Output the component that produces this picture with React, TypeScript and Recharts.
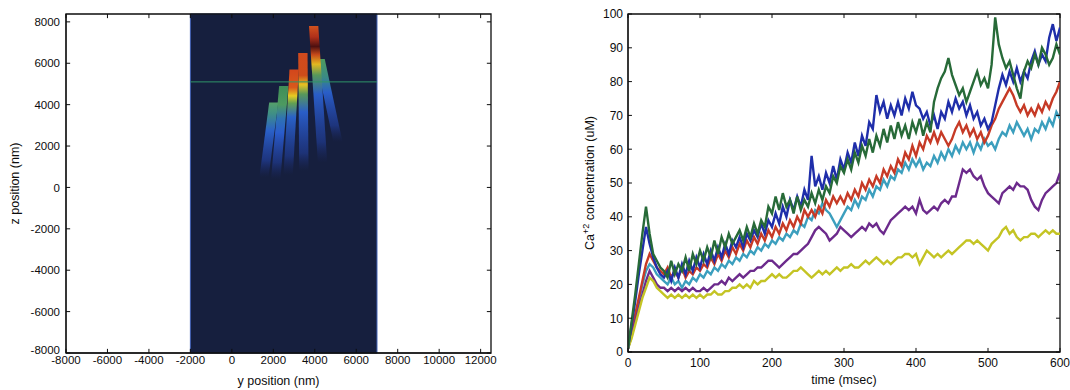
import React from 'react';
import { ComposedChart, LineChart, Line, XAxis, YAxis, ReferenceArea, ReferenceLine } from 'recharts';

const FONT = '"Liberation Sans", Arial, Helvetica, sans-serif';
const INK = '#0d0d0d';

// ---------------- Left panel: spatial map ----------------
const yPosTicks = [-8000, -6000, -4000, -2000, 0, 2000, 4000, 6000, 8000, 10000, 12000];
const zPosTicks = [-8000, -6000, -4000, -2000, 0, 2000, 4000, 6000, 8000];
const yPosDomain = [-8000, 12500];
const zPosDomain = [-8000, 8380];
const regionY = [-2000, 7000];
const markerZ = 5100;

// columns, listed back-to-front
const colTopLeft = [4050, 1800, 2280, 2780, 3200, 3720];
const colTopRight = [4480, 2240, 2730, 3230, 3650, 4170];
const colTopZ = [6200, 4100, 4900, 5700, 6500, 7800];
const colBottomLeft = [4900, 1330, 1890, 2490, 3250, 4150];
const colBottomRight = [5340, 1770, 2340, 2940, 3700, 4600];
const colBottomZ = [2200, 500, 400, 600, 800, 1200];

// colour ramps (style) top -> bottom
const columnStops: [number, string, number][][] = [
  [[0, '#4e9c5e', 1], [0.22, '#3a8a86', 1], [0.4, '#2a5ec8', 1], [0.8, '#2446b0', 0.55], [1, '#1c2c78', 0]],
  [[0, '#55a06a', 1], [0.15, '#3f8f86', 1], [0.38, '#2a60c8', 1], [0.78, '#2446b0', 0.55], [1, '#1c2c78', 0]],
  [[0, '#3f8d58', 1], [0.2, '#4d9a60', 1], [0.35, '#2e72b4', 1], [0.5, '#2a5ccc', 1], [0.82, '#2446b0', 0.5], [1, '#1c2c78', 0]],
  [[0, '#d2461c', 1], [0.17, '#d8581c', 1], [0.25, '#e6cc22', 1], [0.32, '#62a052', 1], [0.45, '#2a62c8', 1], [0.82, '#2446b0', 0.5], [1, '#1c2c78', 0]],
  [[0, '#d04a1e', 1], [0.19, '#cf4c1a', 1], [0.27, '#e6c222', 1], [0.35, '#58985a', 1], [0.5, '#2a5ec8', 1], [0.85, '#2446b0', 0.5], [1, '#1c2c78', 0]],
  [[0, '#d2521e', 1], [0.08, '#b0301a', 1], [0.15, '#4e1010', 1], [0.21, '#c84a1a', 1], [0.28, '#e2b820', 1], [0.36, '#58985a', 1], [0.5, '#2a5ec8', 1], [0.85, '#2446b0', 0.5], [1, '#1c2c78', 0]],
];

// ---------------- Right panel: time series ----------------
const times = [
  0, 5, 10, 15, 20, 25, 30, 35, 40, 45, 50,
  55, 60, 65, 70, 75, 80, 85, 90, 95, 100,
  105, 110, 115, 120, 125, 130, 135, 140, 145, 150,
  155, 160, 165, 170, 175, 180, 185, 190, 195, 200,
  205, 210, 215, 220, 225, 230, 235, 240, 245, 250,
  255, 260, 265, 270, 275, 280, 285, 290, 295, 300,
  305, 310, 315, 320, 325, 330, 335, 340, 345, 350,
  355, 360, 365, 370, 375, 380, 385, 390, 395, 400,
  405, 410, 415, 420, 425, 430, 435, 440, 445, 450,
  455, 460, 465, 470, 475, 480, 485, 490, 495, 500,
  505, 510, 515, 520, 525, 530, 535, 540, 545, 550,
  555, 560, 565, 570, 575, 580, 585, 590, 595, 600,
];
const greenVals = [
  1, 9, 17, 26, 35, 43, 35, 29, 27, 25, 24,
  22, 27, 23, 26, 24, 28, 24, 29, 26, 30,
  27, 31, 28, 33, 29, 34, 31, 35, 32, 34,
  36, 33, 37, 34, 38, 35, 39, 37, 43, 41,
  46, 42, 47, 43, 45, 41, 46, 42, 45, 43,
  47, 44, 48, 45, 49, 47, 52, 50, 55, 53,
  57, 54, 59, 56, 61, 58, 63, 59, 64, 61,
  66, 62, 67, 63, 68, 64, 67, 63, 68, 65,
  69, 64, 68, 65, 74, 78, 81, 83, 87, 82,
  79, 76, 78, 74, 77, 80, 83, 79, 81, 78,
  85, 99, 91, 87, 84, 86, 82, 78, 75, 83,
  86, 84, 88, 85, 90, 88, 85, 87, 91, 88,
];
const blueVals = [
  1, 8, 15, 23, 30, 37, 32, 28, 25, 23, 22,
  24, 21, 25, 22, 26, 23, 27, 24, 28, 25,
  29, 26, 30, 27, 31, 28, 32, 29, 33, 31,
  34, 31, 35, 33, 36, 34, 38, 35, 39, 37,
  41, 38, 43, 40, 45, 42, 46, 43, 48, 45,
  58, 49, 52, 48, 53, 50, 55, 51, 57, 54,
  59, 56, 62, 58, 64, 61, 68, 66, 76, 71,
  74, 69, 73, 70, 74, 70, 75, 72, 77, 73,
  72, 69, 71, 67, 70, 66, 71, 69, 74, 71,
  75, 72, 74, 70, 73, 69, 71, 67, 69, 66,
  68, 73, 78, 82, 79, 83, 80, 84, 80, 83,
  81, 86, 89, 85, 88, 86, 93, 97, 92, 96,
];
const redVals = [
  1, 6, 11, 16, 21, 26, 29, 27, 25, 24, 23,
  25, 22, 24, 22, 25, 22, 24, 23, 25, 24,
  26, 25, 28, 26, 29, 27, 30, 28, 31, 29,
  32, 30, 33, 31, 34, 32, 35, 33, 36, 34,
  37, 35, 38, 36, 39, 37, 40, 38, 42, 40,
  42, 40, 43, 41, 45, 43, 46, 44, 46, 44,
  47, 45, 48, 46, 50, 48, 51, 49, 52, 50,
  54, 52, 55, 53, 57, 55, 59, 57, 61, 58,
  62, 60, 64, 62, 65, 62, 65, 63, 61, 63,
  66, 68, 65, 67, 64, 66, 63, 65, 62, 64,
  67, 69, 72, 74, 76, 78, 76, 73, 71, 73,
  70, 72, 70, 73, 71, 74, 72, 75, 77, 80,
];
const cyanVals = [
  1, 5, 10, 15, 20, 24, 26, 25, 23, 22, 21,
  20, 22, 20, 21, 19, 21, 20, 22, 21, 23,
  22, 24, 23, 25, 24, 26, 25, 27, 26, 28,
  27, 29, 28, 30, 29, 31, 30, 32, 31, 33,
  32, 34, 33, 35, 34, 36, 35, 38, 37, 40,
  39, 42, 41, 44, 42, 41, 39, 37, 39, 41,
  43, 42, 45, 43, 46, 45, 48, 46, 49, 48,
  51, 49, 52, 51, 54, 53, 56, 54, 57, 55,
  57, 54, 56, 55, 58, 56, 59, 57, 60, 58,
  61, 59, 62, 60, 62, 59, 62, 60, 63, 61,
  62, 60, 63, 65, 64, 67, 65, 68, 66, 64,
  66, 63, 66, 65, 68, 66, 69, 67, 71, 69,
];
const purpleVals = [
  1, 5, 9, 13, 17, 21, 24, 22, 20, 19, 19,
  18, 19, 18, 19, 18, 19, 18, 19, 18, 18,
  19, 18, 19, 20, 20, 21, 20, 22, 21, 22,
  23, 22, 23, 24, 24, 25, 25, 26, 27, 27,
  26, 25, 26, 27, 28, 29, 29, 30, 31, 32,
  34, 36, 37, 36, 35, 33, 34, 35, 37, 36,
  35, 34, 35, 36, 37, 36, 38, 37, 38, 36,
  35, 37, 39, 40, 41, 42, 43, 42, 43, 41,
  45, 42, 41, 42, 43, 42, 44, 45, 44, 46,
  46, 50, 54, 53, 54, 52, 51, 52, 49, 47,
  46, 45, 44, 47, 48, 49, 48, 50, 49, 49,
  48, 45, 43, 42, 45, 47, 48, 49, 50, 53,
];
const yellowVals = [
  1, 4, 8, 12, 16, 19, 22, 21, 19, 18, 17,
  16, 17, 16, 17, 16, 17, 16, 17, 16, 17,
  16, 17, 17, 18, 17, 17, 18, 18, 19, 19,
  20, 19, 20, 19, 21, 20, 21, 21, 22, 23,
  22, 23, 22, 22, 23, 24, 24, 25, 24, 23,
  22, 23, 24, 23, 24, 23, 24, 25, 24, 25,
  25, 26, 25, 25, 26, 27, 26, 27, 28, 27,
  26, 27, 26, 27, 28, 28, 29, 29, 28, 29,
  26, 28, 30, 29, 28, 29, 28, 29, 30, 29,
  30, 31, 32, 33, 33, 32, 33, 32, 31, 30,
  32, 33, 34, 36, 37, 35, 36, 34, 33, 34,
  34, 35, 35, 34, 35, 36, 35, 36, 35, 35,
];
const timeTicks = [0, 100, 200, 300, 400, 500, 600];
const concTicks = [0, 10, 20, 30, 40, 50, 60, 70, 80, 90, 100];
const timeDomain = [0, 600];
const concDomain = [0, 100];

const seriesKeys = ['cyan', 'red', 'purple', 'yellow', 'blue', 'green'];
const seriesColors: Record<string, string> = {
  cyan: '#3c9fbe',
  red: '#c63a26',
  purple: '#6c2a8c',
  yellow: '#c4c424',
  blue: '#1f2eaa',
  green: '#276a38',
};

const timeRows = times.map((t, i) => ({
  t,
  green: greenVals[i],
  blue: blueVals[i],
  red: redVals[i],
  cyan: cyanVals[i],
  purple: purpleVals[i],
  yellow: yellowVals[i],
}));

// ---------------- tick label renderers ----------------
const makeBottomTick = (dy: number, fs: number) => (p: any) => (
  <text x={p.x} y={p.y + dy} textAnchor="middle" fontSize={fs} fill={INK} fontFamily={FONT}>
    {p.payload.value}
  </text>
);
const makeLeftTick = (gap: number, fs: number, lowNudge: number) => (p: any) => (
  <text
    x={p.x - gap}
    y={p.y - (p.index === 0 ? lowNudge : 0)}
    dy="0.36em"
    textAnchor="end"
    fontSize={fs}
    fill={INK}
    fontFamily={FONT}
  >
    {p.payload.value}
  </text>
);

const xLabel = (text: string, dy: number) => (p: any) => {
  const vb = p.viewBox || {};
  return (
    <text x={vb.x + vb.width / 2} y={vb.y + dy} textAnchor="middle" fontSize={12.5} fill={INK} fontFamily={FONT}>
      {text}
    </text>
  );
};

// inward MATLAB-style ticks + box drawn with reference marks in data space
function boxAndTicks(xd: number[], yd: number[], xt: number[], yt: number[], xLen: number, yLen: number, prefix: string) {
  const out: any[] = [];
  out.push(
    <ReferenceArea
      key={prefix + 'box'}
      x1={xd[0]}
      x2={xd[1]}
      y1={yd[0]}
      y2={yd[1]}
      fill="none"
      fillOpacity={0}
      stroke={INK}
      strokeWidth={1.3}
      ifOverflow="visible"
    />
  );
  xt.forEach((v) => {
    out.push(
      <ReferenceLine key={prefix + 'b' + v} segment={[{ x: v, y: yd[0] }, { x: v, y: yd[0] + yLen }]} stroke={INK} ifOverflow="visible" />
    );
    out.push(
      <ReferenceLine key={prefix + 't' + v} segment={[{ x: v, y: yd[1] }, { x: v, y: yd[1] - yLen }]} stroke={INK} ifOverflow="visible" />
    );
  });
  yt.forEach((v) => {
    out.push(
      <ReferenceLine key={prefix + 'l' + v} segment={[{ x: xd[0], y: v }, { x: xd[0] + xLen, y: v }]} stroke={INK} ifOverflow="visible" />
    );
    out.push(
      <ReferenceLine key={prefix + 'r' + v} segment={[{ x: xd[1], y: v }, { x: xd[1] - xLen, y: v }]} stroke={INK} ifOverflow="visible" />
    );
  });
  return out;
}

const columnShape = (i: number) => (p: any) => {
  const x1 = Math.min(colTopLeft[i], colBottomLeft[i]);
  const x2 = Math.max(colTopRight[i], colBottomRight[i]);
  const X = (v: number) => p.x + ((v - x1) / (x2 - x1)) * p.width;
  const Y = (z: number) => p.y + ((colTopZ[i] - z) / (colTopZ[i] - colBottomZ[i])) * p.height;
  const pts = [
    [colTopLeft[i], colTopZ[i]],
    [colTopRight[i], colTopZ[i]],
    [colBottomRight[i], colBottomZ[i]],
    [colBottomLeft[i], colBottomZ[i]],
  ];
  return <polygon points={pts.map(([v, z]) => `${X(v)},${Y(z)}`).join(' ')} fill={`url(#colGrad${i})`} />;
};

function LeftPanel() {
  return (
    <ComposedChart width={520} height={390} margin={{ top: 14, right: 29, bottom: 0, left: 0 }} data={[]}>
      <defs>
        {columnStops.map((stops, i) => (
          <linearGradient key={i} id={`colGrad${i}`} x1="0" y1="0" x2="0" y2="1">
            {stops.map(([o, c, a], j) => (
              <stop key={j} offset={o} stopColor={c} stopOpacity={a} />
            ))}
          </linearGradient>
        ))}
      </defs>
      <XAxis
        type="number"
        dataKey="y"
        domain={yPosDomain}
        ticks={yPosTicks}
        interval={0}
        allowDataOverflow
        height={37}
        tickLine={false}
        tickSize={0}
        tickMargin={0}
        axisLine={{ stroke: INK }}
        tick={makeBottomTick(10.5, 11.5)}
        label={xLabel('y position (nm)', 32)}
      />
      <YAxis
        type="number"
        dataKey="z"
        domain={zPosDomain}
        ticks={zPosTicks}
        interval={0}
        allowDataOverflow
        width={66}
        tickLine={false}
        tickSize={0}
        tickMargin={0}
        axisLine={{ stroke: INK }}
        tick={makeLeftTick(6, 11.5, 3)}
        label={(p: any) => {
          const vb = p.viewBox || {};
          const cx = vb.x + 14;
          const cy = vb.y + vb.height / 2;
          return (
            <text x={cx} y={cy} transform={`rotate(-90 ${cx} ${cy})`} textAnchor="middle" dy="0.36em" fontSize={12.5} fill={INK} fontFamily={FONT}>
              z position (nm)
            </text>
          );
        }}
      />
      <ReferenceArea
        x1={regionY[0]}
        x2={regionY[1]}
        y1={zPosDomain[0]}
        y2={zPosDomain[1]}
        fill="#161f3e"
        fillOpacity={1}
        stroke="#3b5bb0"
        strokeWidth={1}
        ifOverflow="visible"
      />
      {colTopZ.map((_, i) => (
        <ReferenceArea
          key={i}
          x1={Math.min(colTopLeft[i], colBottomLeft[i])}
          x2={Math.max(colTopRight[i], colBottomRight[i])}
          y1={colBottomZ[i]}
          y2={colTopZ[i]}
          shape={columnShape(i)}
        />
      ))}
      <ReferenceLine
        segment={[
          { x: regionY[0], y: markerZ },
          { x: regionY[1], y: markerZ },
        ]}
        stroke="#2f9468"
        strokeWidth={1}
      />
      {boxAndTicks(yPosDomain, zPosDomain, yPosTicks, zPosTicks, 200, 200, 'L')}
    </ComposedChart>
  );
}

function RightPanel() {
  return (
    <LineChart width={530} height={390} margin={{ top: 14, right: 10, bottom: 0, left: 0 }} data={timeRows}>
      <XAxis
        type="number"
        dataKey="t"
        domain={timeDomain}
        ticks={timeTicks}
        interval={0}
        allowDataOverflow
        height={38}
        tickLine={false}
        tickSize={0}
        tickMargin={0}
        axisLine={{ stroke: INK }}
        tick={makeBottomTick(15, 12)}
        label={xLabel('time (msec)', 32)}
      />
      <YAxis
        type="number"
        domain={concDomain}
        ticks={concTicks}
        interval={0}
        allowDataOverflow
        width={88}
        tickLine={false}
        tickSize={0}
        tickMargin={0}
        axisLine={{ stroke: INK }}
        tick={makeLeftTick(5, 12, 0)}
        label={(p: any) => {
          const vb = p.viewBox || {};
          const cx = vb.x + 49;
          const cy = vb.y + vb.height / 2;
          return (
            <text x={cx} y={cy} transform={`rotate(-90 ${cx} ${cy})`} textAnchor="middle" dy="0.36em" fontSize={12.5} fill={INK} fontFamily={FONT}>
              <tspan>Ca</tspan>
              <tspan dy={-5} fontSize={9}>+2</tspan>
              <tspan dy={5}> concentration (uM)</tspan>
            </text>
          );
        }}
      />
      {seriesKeys.map((k) => (
        <Line
          key={k}
          type="linear"
          dataKey={k}
          stroke={seriesColors[k]}
          strokeWidth={2.4}
          dot={false}
          isAnimationActive={false}
        />
      ))}
      {boxAndTicks(timeDomain, concDomain, timeTicks, concTicks, 5.5, 1.2, 'R')}
    </LineChart>
  );
}

export default function App() {
  return (
    <div
      style={{
        position: 'absolute',
        left: 0,
        top: 0,
        width: 1070,
        height: 390,
        background: '#fff',
        fontFamily: FONT,
        overflow: 'hidden',
      }}
    >
      <div style={{ position: 'absolute', left: 0, top: 0 }}>
        <LeftPanel />
      </div>
      <div style={{ position: 'absolute', left: 540, top: 0 }}>
        <RightPanel />
      </div>
    </div>
  );
}
